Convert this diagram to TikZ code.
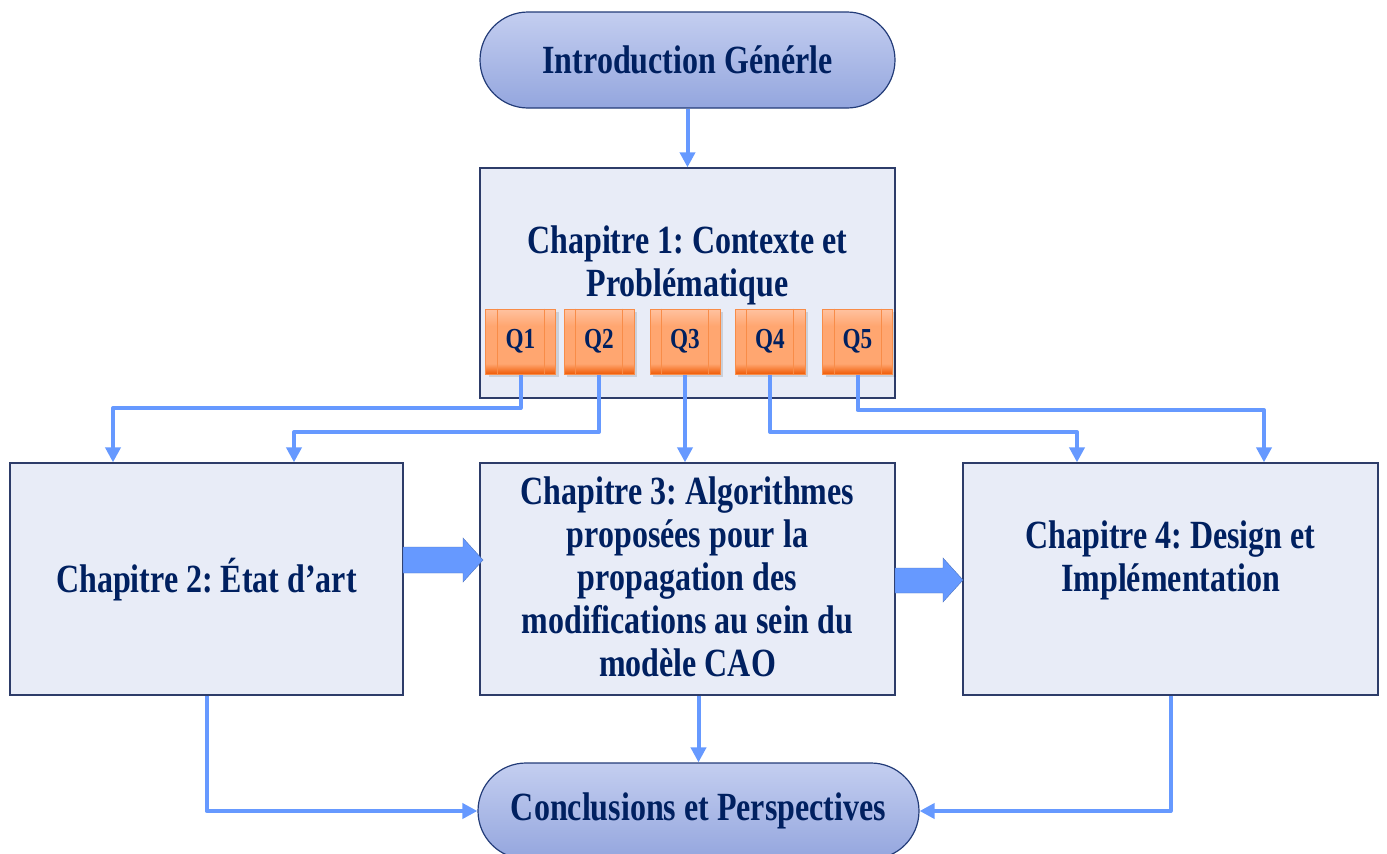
\documentclass[tikz,border=0pt]{standalone}
\usepackage{fontspec}
\setmainfont{Liberation Serif}[FakeStretch=0.80]
\usetikzlibrary{arrows.meta,shadows}
\frenchspacing
\definecolor{navy}{RGB}{0,32,96}
\definecolor{lineblue}{RGB}{102,153,255}
\definecolor{boxfill}{RGB}{232,236,247}
\definecolor{boxdraw}{RGB}{45,60,105}
\definecolor{pilltop}{RGB}{196,206,240}
\definecolor{pillbot}{RGB}{148,166,222}
\definecolor{pilldraw}{RGB}{35,60,120}
\definecolor{qtop}{RGB}{255,194,160}
\definecolor{qmid}{RGB}{255,166,112}
\definecolor{qbot}{RGB}{240,92,8}
\definecolor{qdraw}{RGB}{248,140,72}
\pgfdeclareverticalshading{qshade}{100bp}{color(0bp)=(qbot); color(25bp)=(qbot); color(33bp)=(qmid); color(62bp)=(qmid); color(75bp)=(qtop); color(100bp)=(qtop)}
\begin{document}
\begin{tikzpicture}[x=1pt,y=-1pt,
  txt/.style={font=\bfseries\fontsize{40}{43}\selectfont, text=navy, align=center, inner sep=0pt},
  pill/.style={draw=pilldraw, line width=1.2pt, rounded corners=48pt, top color=pilltop, bottom color=pillbot, minimum height=96pt, inner sep=0pt, font=\bfseries\fontsize{40}{43}\selectfont, text=navy},
  chbox/.style={draw=boxdraw, line width=1.3pt, fill=boxfill, inner sep=0pt},
  qbox/.style={draw=qdraw, line width=1pt, shading=qshade, minimum width=70pt, minimum height=65pt, inner sep=0pt, text=navy, font=\bfseries\fontsize{29}{32}\selectfont, drop shadow={shadow xshift=3pt, shadow yshift=-3pt, opacity=0.12, fill=black}},
  qline/.style={draw=qdraw, line width=0.8pt},
  conn/.style={draw=lineblue, line width=4pt, line join=round, -{Triangle[width=15pt,length=15pt]}},
  fat/.style={fill=lineblue, draw=lineblue!75!black, line width=0.4pt}
]
\useasboundingbox (0,0) rectangle (1387,854);
\clip (0,0) rectangle (1387,854);

% top and bottom pills
\node[pill, minimum width=415pt] (intro) at (687.5,60) {Introduction Générle};
\node[pill, minimum width=441pt] (concl) at (698.5,811) {\raisebox{-3pt}{Conclusions et Perspectives}};

% chapter 1
\node[chbox, minimum width=415pt, minimum height=230pt] (c1) at (687.5,283) {};
\node[txt] (c1t) at (687.5,265) {Chapitre 1: Contexte et\\Problématique};

% question boxes
\foreach \n/\x in {1/520.5,2/599,3/685,4/770,5/857.5}{
  \node[qbox] (q\n) at (\x,341.5) {Q\n};
  \draw[qline] ([xshift=12pt]q\n.north west) -- ([xshift=12pt]q\n.south west);
  \draw[qline] ([xshift=-12pt]q\n.north east) -- ([xshift=-12pt]q\n.south east);
}

% chapters 2-4
\node[chbox, minimum width=393pt, minimum height=232pt] (c2) at (206.5,579) {};
\node[chbox, minimum width=415pt, minimum height=232pt] (c3) at (687.5,579) {};
\node[chbox, minimum width=415pt, minimum height=232pt] (c4) at (1170.5,579) {};
\node[txt, anchor=base] (c2t) at (206.5,592) {Chapitre 2: État d’art};
\node[txt] (c3t) at (687.5,577) {Chapitre 3: Algorithmes\\proposées pour la\\propagation des\\modifications au sein du\\modèle CAO};
\node[txt] (c4t) at (1170.5,560) {Chapitre 4: Design et\\Implémentation};

% connectors
\draw[conn] (intro.south) -- (c1.north);
\coordinate (t1) at (113,408);
\coordinate (t2) at (294,432);
\coordinate (t4) at (1077,432);
\coordinate (t5) at (1264,410);
\draw[conn] (q1.south) |- (t1) -- (t1 |- c2.north);
\draw[conn] (q2.south) |- (t2) -- (t2 |- c2.north);
\draw[conn] (q3.south) -- (q3.south |- c3.north);
\draw[conn] (q4.south) |- (t4) -- (t4 |- c4.north);
\draw[conn] (q5.south) |- (t5) -- (t5 |- c4.north);
\draw[conn] (c3.south -| concl.north) -- (concl.north);
\draw[conn] (c2.south) |- (concl.west);
\draw[conn] (c4.south) |- (concl.east);

% block arrows
\filldraw[fat] (403,547) -- (463,547) -- (463,538) -- (483,560) -- (463,582) -- (463,573) -- (403,573) -- cycle;
\filldraw[fat] (895,568) -- (943,568) -- (943,558) -- (963,580) -- (943,602) -- (943,593) -- (895,593) -- cycle;
\end{tikzpicture}
\end{document}
